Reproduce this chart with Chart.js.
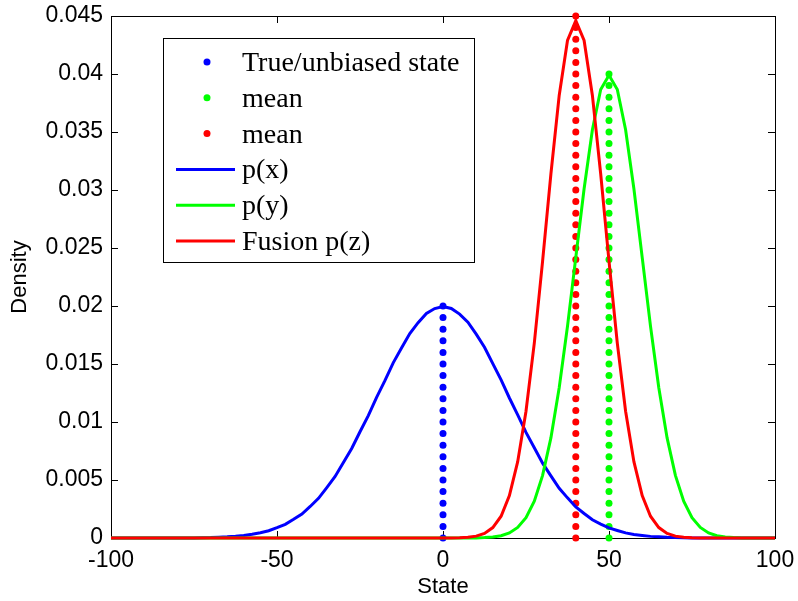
<!DOCTYPE html>
<html>
<head>
<meta charset="utf-8">
<script src="https://cdn.jsdelivr.net/npm/chart.js@4.4.1/dist/chart.umd.min.js"></script>
<style>
  html, body { margin: 0; padding: 0; background: #fff; }
</style>
</head>
<body>
<canvas id="fusao" width="798" height="601"></canvas>
<script>
// eixo x (estado)
const estado = [
  -100, -97.5, -95, -92.5, -90, -87.5, -85, -82.5, -80, -77.5,
  -75, -72.5, -70, -67.5, -65, -62.5, -60, -57.5, -55, -52.5,
  -50, -47.5, -45, -42.5, -40, -37.5, -35, -32.5, -30, -27.5,
  -25, -22.5, -20, -17.5, -15, -12.5, -10, -7.5, -5, -2.5,
  0, 2.5, 5, 7.5, 10, 12.5, 15, 17.5, 20, 22.5,
  25, 27.5, 30, 32.5, 35, 37.5, 40, 42.5, 45, 47.5,
  50, 52.5, 55, 57.5, 60, 62.5, 65, 67.5, 70, 72.5,
  75, 77.5, 80, 82.5, 85, 87.5, 90, 92.5, 95, 97.5,
  100,
];

// p(x)
const densX = [
  0, 0, 0, 0, 0, 0, 0, 0, 0, 0,
  0.00001, 0.00003, 0.00004, 0.00007, 0.0001, 0.00015, 0.00022, 0.00033, 0.00046, 0.00063,
  0.00089, 0.00118, 0.00161, 0.00207, 0.00272, 0.00342, 0.00434, 0.0053, 0.00651, 0.00772,
  0.00916, 0.01055, 0.01213, 0.01356, 0.0151, 0.01638, 0.01763, 0.01856, 0.01935, 0.01978,
  0.01996, 0.01979, 0.0193, 0.01861, 0.01757, 0.01644, 0.01503, 0.01363, 0.01207, 0.01062,
  0.0091, 0.00778, 0.00645, 0.00536, 0.00428, 0.00346, 0.00268, 0.00211, 0.00157, 0.0012,
  0.00087, 0.00065, 0.00044, 0.00031, 0.00022, 0.00014, 0.0001, 0.00006, 0.00004, 0.00002,
  0.00001, 0, 0, 0, 0, 0, 0, 0, 0, 0,
  0,
];

// p(y)
const densY = [
  0, 0, 0, 0, 0, 0, 0, 0, 0, 0,
  0, 0, 0, 0, 0, 0, 0, 0, 0, 0,
  0, 0, 0, 0, 0, 0, 0, 0, 0, 0,
  0, 0, 0, 0, 0, 0, 0, 0, 0, 0,
  0, 0, 0, 0, 0.00001, 0.00004, 0.00009, 0.0002, 0.00044, 0.00091,
  0.00175, 0.00317, 0.0054, 0.00863, 0.01295, 0.01826, 0.02419, 0.03011, 0.0352, 0.03866,
  0.03989, 0.03866, 0.0352, 0.03011, 0.02419, 0.01826, 0.01295, 0.00863, 0.0054, 0.00317,
  0.00175, 0.00091, 0.00044, 0.0002, 0.00009, 0.00004, 0.00001, 0, 0, 0,
  0,
];

// fusao p(z)
const densZ = [
  0, 0, 0, 0, 0, 0, 0, 0, 0, 0,
  0, 0, 0, 0, 0, 0, 0, 0, 0, 0,
  0, 0, 0, 0, 0, 0, 0, 0, 0, 0,
  0, 0, 0, 0, 0, 0, 0, 0, 0, 0,
  0, 0, 0.00002, 0.00006, 0.00016, 0.0004, 0.0009, 0.00188, 0.00366, 0.00658,
  0.01093, 0.0168, 0.02387, 0.03138, 0.03815, 0.04289, 0.0446, 0.04289, 0.03815, 0.03138,
  0.02387, 0.0168, 0.01093, 0.00658, 0.00366, 0.00188, 0.0009, 0.0004, 0.00016, 0.00006,
  0.00002, 0, 0, 0, 0, 0, 0, 0, 0, 0,
  0,
];

// linhas pontilhadas das medias
const mediaX = 0;
const mediaY = 50;
const mediaZ = 40;
const alturaX = [0, 0.001, 0.002, 0.003, 0.004, 0.005, 0.006, 0.007, 0.008, 0.009, 0.01,
  0.011, 0.012, 0.013, 0.014, 0.015, 0.016, 0.017, 0.018, 0.019, 0.02];
const alturaY = [0, 0.001, 0.002, 0.003, 0.004, 0.005, 0.006, 0.007, 0.008, 0.009, 0.01,
  0.011, 0.012, 0.013, 0.014, 0.015, 0.016, 0.017, 0.018, 0.019, 0.02,
  0.021, 0.022, 0.023, 0.024, 0.025, 0.026, 0.027, 0.028, 0.029, 0.03,
  0.031, 0.032, 0.033, 0.034, 0.035, 0.036, 0.037, 0.038, 0.039, 0.04];
const alturaZ = [0, 0.001, 0.002, 0.003, 0.004, 0.005, 0.006, 0.007, 0.008, 0.009, 0.01,
  0.011, 0.012, 0.013, 0.014, 0.015, 0.016, 0.017, 0.018, 0.019, 0.02,
  0.021, 0.022, 0.023, 0.024, 0.025, 0.026, 0.027, 0.028, 0.029, 0.03,
  0.031, 0.032, 0.033, 0.034, 0.035, 0.036, 0.037, 0.038, 0.039, 0.04,
  0.041, 0.042, 0.043, 0.044, 0.045];

const xTicks = [-100, -50, 0, 50, 100];

const AZUL = "#0000ff";
const VERDE = "#00ff00";
const VERMELHO = "#ff0000";

const pares = (xs, ys) => xs.map((x, i) => ({ x: x, y: ys[i] }));
const vertical = (x, ys) => ys.map((y) => ({ x: x, y: y }));

function pontos(label, x, ys, cor, ordem) {
  return {
    label: label,
    data: vertical(x, ys),
    showLine: false,
    pointRadius: 3.5,
    pointBorderWidth: 0,
    pointBackgroundColor: cor,
    backgroundColor: cor,
    borderColor: cor,
    clip: false,
    order: ordem,
  };
}

function curva(label, ys, cor, ordem) {
  return {
    label: label,
    data: pares(estado, ys),
    borderColor: cor,
    backgroundColor: cor,
    borderWidth: 3,
    pointRadius: 0,
    tension: 0,
    clip: false,
    order: ordem,
  };
}

// caixa do grafico com ticks para dentro nos quatro lados
const caixaEixos = {
  id: "caixaEixos",
  beforeDatasetsDraw(chart) {
    const { ctx, chartArea: a, scales } = chart;
    const len = 7;
    ctx.save();
    ctx.strokeStyle = "#000";
    ctx.lineWidth = 1;
    ctx.strokeRect(a.left + 0.5, a.top + 0.5, a.right - a.left, a.bottom - a.top);
    ctx.beginPath();
    scales.x.ticks.forEach((t) => {
      const px = Math.round(scales.x.getPixelForValue(t.value)) + 0.5;
      ctx.moveTo(px, a.bottom);
      ctx.lineTo(px, a.bottom - len);
      ctx.moveTo(px, a.top);
      ctx.lineTo(px, a.top + len);
    });
    scales.y.ticks.forEach((t) => {
      const py = Math.round(scales.y.getPixelForValue(t.value)) + 0.5;
      ctx.moveTo(a.left, py);
      ctx.lineTo(a.left + len, py);
      ctx.moveTo(a.right, py);
      ctx.lineTo(a.right - len, py);
    });
    ctx.stroke();
    ctx.restore();
  },
};

// legenda dentro da area do grafico
const legendaInterna = {
  id: "legendaInterna",
  afterDatasetsDraw(chart) {
    const { ctx, chartArea: a } = chart;
    const left = a.left + 52;
    const top = a.top + 22;
    const w = 311;
    const h = 224;
    ctx.save();
    ctx.fillStyle = "#fff";
    ctx.fillRect(left, top, w, h);
    ctx.strokeStyle = "#000";
    ctx.lineWidth = 1;
    ctx.strokeRect(left + 0.5, top + 0.5, w, h);
    ctx.font = '28px "Liberation Serif", "Times New Roman", serif';
    ctx.textBaseline = "alphabetic";
    ctx.textAlign = "left";
    chart.data.datasets.forEach((ds, i) => {
      const cy = top + 24 + i * 35.8;
      if (ds.showLine === false) {
        ctx.fillStyle = ds.pointBackgroundColor;
        ctx.beginPath();
        ctx.arc(left + 44, cy, 3.5, 0, Math.PI * 2);
        ctx.fill();
      } else {
        ctx.strokeStyle = ds.borderColor;
        ctx.lineWidth = 3;
        ctx.beginPath();
        ctx.moveTo(left + 13, cy);
        ctx.lineTo(left + 72, cy);
        ctx.stroke();
      }
      ctx.fillStyle = "#000";
      ctx.fillText(ds.label, left + 79, cy + 9);
    });
    ctx.restore();
  },
};

Chart.defaults.font.family = '"Liberation Sans", Arial, sans-serif';
Chart.defaults.color = "#000";

const ctx = document.getElementById("fusao");

new Chart(ctx, {
  type: "line",
  data: {
    datasets: [
      pontos("True/unbiased state", mediaX, alturaX, AZUL, 6),
      pontos("mean", mediaY, alturaY, VERDE, 5),
      pontos("mean", mediaZ, alturaZ, VERMELHO, 4),
      curva("p(x)", densX, AZUL, 3),
      curva("p(y)", densY, VERDE, 2),
      curva("Fusion p(z)", densZ, VERMELHO, 1),
    ],
  },
  options: {
    responsive: false,
    animation: false,
    devicePixelRatio: 1,
    layout: { padding: { top: 16, right: 23, left: 0, bottom: 0 } },
    plugins: {
      legend: { display: false },
      tooltip: { enabled: false },
    },
    scales: {
      x: {
        type: "linear",
        min: -100,
        max: 100,
        afterFit: (s) => {
          s.height = 63;
          s.paddingLeft = 0;
          s.paddingRight = 0;
        },
        afterBuildTicks: (s) => { s.ticks = xTicks.map((v) => ({ value: v })); },
        grid: { display: false, drawTicks: false },
        border: { display: false },
        ticks: { font: { size: 23 }, padding: 9, maxRotation: 0 },
        title: {
          display: true,
          text: "State",
          font: { size: 22 },
          padding: { top: 0, bottom: 1 },
        },
      },
      y: {
        type: "linear",
        min: 0,
        max: 0.045,
        afterFit: (s) => {
          s.width = 111;
          s.paddingTop = 0;
          s.paddingBottom = 0;
        },
        grid: { display: false, drawTicks: false },
        border: { display: false },
        ticks: {
          stepSize: 0.005,
          font: { size: 23 },
          padding: 8,
          callback: (v) => (v === 0 ? "0" : String(+v.toFixed(3))),
        },
        title: {
          display: true,
          text: "Density",
          font: { size: 22 },
          padding: { top: 7, bottom: 0 },
        },
      },
    },
  },
  plugins: [caixaEixos, legendaInterna],
});
</script>
</body>
</html>
